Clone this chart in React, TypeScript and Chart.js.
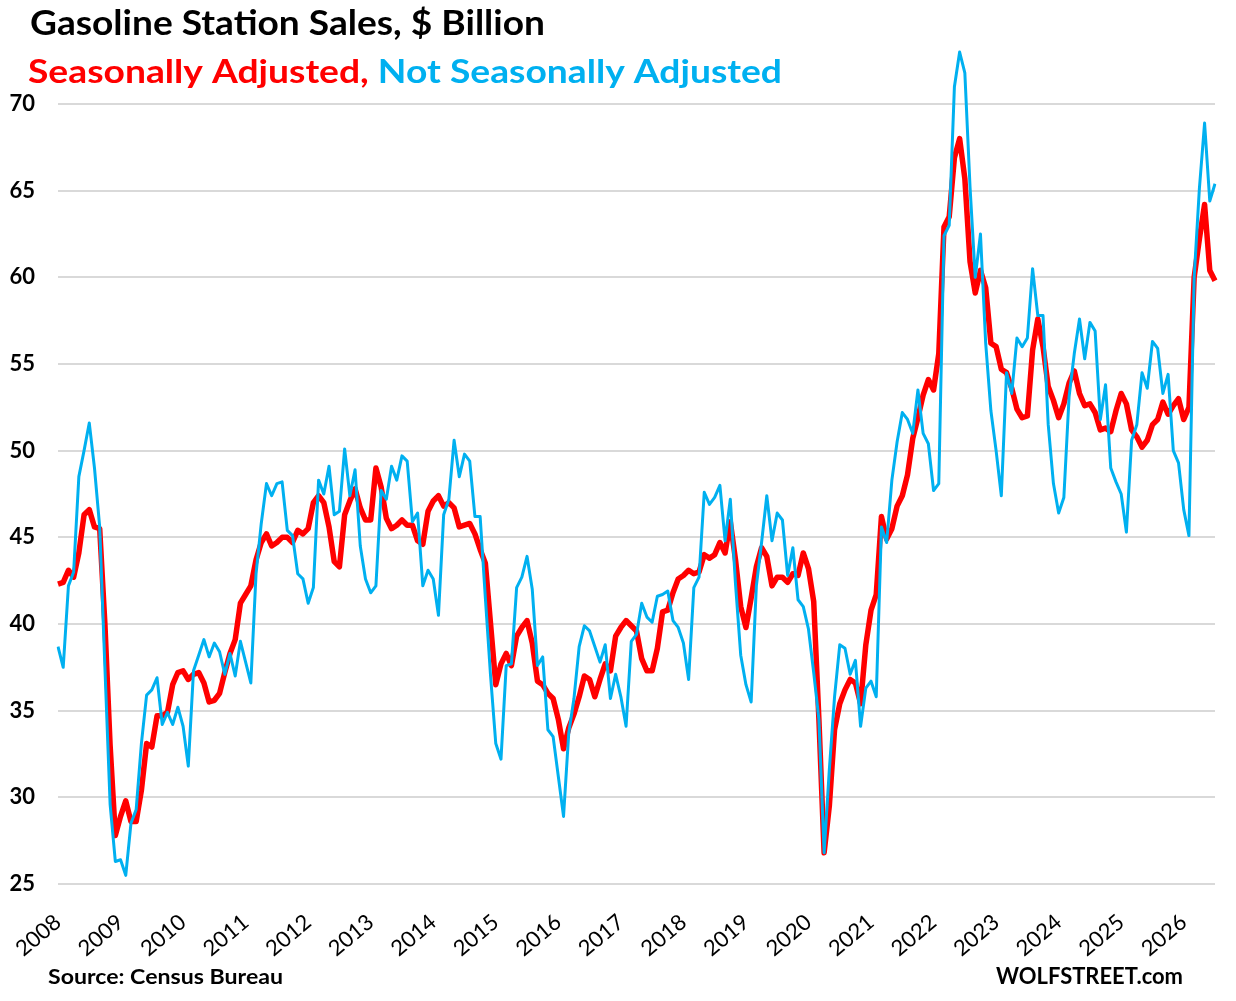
import React, { useEffect, useRef } from "react";
import { Chart, registerables } from "chart.js";

Chart.register(...registerables);

const years = ["2008","2009","2010","2011","2012","2013","2014","2015","2016","2017","2018","2019","2020","2021","2022","2023","2024","2025","2026"];
const monthsInLastYear = 7;

const seasonallyAdjusted = [
  42.3, 42.4, 43.1, 42.7, 44.1, 46.3, 46.6, 45.6, 45.5, 40.0, 33.0, 27.8,
  28.9, 29.8, 28.6, 28.6, 30.4, 33.1, 32.9, 34.7, 34.7, 34.9, 36.5, 37.2,
  37.3, 36.8, 37.1, 37.2, 36.6, 35.5, 35.6, 36.0, 37.2, 38.3, 39.1, 41.2,
  41.7, 42.2, 43.7, 44.7, 45.2, 44.5, 44.7, 45.0, 45.0, 44.7, 45.4, 45.2,
  45.5, 47.0, 47.4, 47.0, 45.6, 43.6, 43.3, 46.3, 47.1, 47.8, 46.7, 46.0,
  46.0, 49.0, 47.9, 46.1, 45.5, 45.7, 46.0, 45.7, 45.7, 44.8, 44.6, 46.5,
  47.1, 47.4, 46.8, 47.0, 46.7, 45.6, 45.7, 45.8, 45.2, 44.3, 43.5, 40.0,
  36.5, 37.7, 38.3, 37.6, 39.3, 39.8, 40.2, 38.9, 36.7, 36.5, 36.0, 35.7,
  34.5, 32.8, 34.0, 34.8, 35.8, 37.0, 36.8, 35.8, 36.8, 37.7, 37.3, 39.3,
  39.8, 40.2, 39.9, 39.6, 38.0, 37.3, 37.3, 38.6, 40.7, 40.8, 41.8, 42.6,
  42.8, 43.1, 42.9, 43.0, 44.0, 43.8, 44.0, 44.7, 44.1, 45.9, 43.7, 41.0,
  39.8, 41.5, 43.3, 44.4, 43.9, 42.2, 42.7, 42.7, 42.4, 42.9, 42.8, 44.1,
  43.2, 41.3, 34.5, 26.8, 29.5, 33.9, 35.4, 36.2, 36.8, 36.6, 35.4, 38.8,
  40.8, 41.7, 46.2, 44.9, 45.5, 46.8, 47.4, 48.6, 50.7, 51.9, 53.2, 54.1,
  53.5, 55.6, 62.9, 63.5, 66.9, 68.0, 65.7, 60.9, 59.1, 60.4, 59.4, 56.2,
  56.0, 54.7, 54.5, 53.6, 52.4, 51.9, 52.0, 55.8, 57.6, 56.0, 53.7, 52.9,
  51.9, 52.7, 53.9, 54.6, 53.3, 52.6, 52.7, 52.2, 51.2, 51.3, 51.1, 52.3,
  53.3, 52.7, 51.2, 50.8, 50.2, 50.6, 51.5, 51.8, 52.8, 52.1, 52.6, 53.0,
  51.8, 52.5, 60.0, 62.2, 64.2, 60.4, 59.8,
];

const notSeasonallyAdjusted = [
  38.7, 37.5, 42.2, 43.0, 48.5, 50.0, 51.6, 49.0, 45.6, 37.5, 29.6, 26.3,
  26.4, 25.5, 28.5, 29.3, 33.1, 35.9, 36.2, 36.9, 34.2, 34.9, 34.2, 35.2,
  34.1, 31.8, 37.3, 38.2, 39.1, 38.1, 38.9, 38.4, 37.1, 38.3, 37.0, 39.0,
  37.8, 36.6, 42.9, 45.8, 48.1, 47.4, 48.1, 48.2, 45.4, 45.1, 42.9, 42.6,
  41.2, 42.1, 48.3, 47.5, 49.1, 46.3, 46.5, 50.1, 47.4, 48.9, 44.5, 42.6,
  41.8, 42.2, 47.7, 47.2, 49.1, 48.3, 49.7, 49.4, 45.9, 46.4, 42.2, 43.1,
  42.6, 40.5, 46.3, 47.2, 50.6, 48.5, 49.8, 49.4, 46.2, 46.2, 41.5, 37.0,
  33.1, 32.2, 37.6, 37.7, 42.1, 42.7, 43.9, 42.0, 37.6, 38.1, 33.9, 33.5,
  31.2, 28.9, 33.7, 35.7, 38.7, 39.9, 39.6, 38.7, 37.8, 38.8, 35.7, 37.1,
  35.8, 34.1, 39.0, 39.4, 41.2, 40.4, 40.1, 41.6, 41.7, 41.9, 40.2, 39.8,
  38.9, 36.8, 42.1, 42.7, 47.6, 46.9, 47.3, 48.0, 44.8, 47.2, 42.3, 38.2,
  36.5, 35.5, 42.2, 44.7, 47.4, 44.8, 46.4, 46.0, 42.8, 44.4, 41.4, 41.0,
  39.7, 37.2, 34.5, 26.8, 31.6, 35.8, 38.8, 38.6, 37.1, 37.9, 34.1, 36.3,
  36.7, 35.8, 45.6, 44.7, 48.3, 50.5, 52.2, 51.8, 51.0, 53.5, 51.0, 50.4,
  47.7, 48.1, 62.4, 63.0, 71.0, 73.0, 71.8, 65.2, 60.0, 62.5, 56.2, 52.3,
  50.0, 47.4, 54.5, 53.3, 56.5, 56.0, 56.5, 60.5, 57.8, 57.8, 51.5, 48.1,
  46.4, 47.3, 53.1, 55.6, 57.6, 55.3, 57.4, 56.9, 51.8, 53.8, 49.0, 48.2,
  47.5, 45.3, 50.6, 51.5, 54.5, 53.6, 56.3, 55.9, 53.3, 54.4, 50.0, 49.3,
  46.6, 45.1, 60.0, 65.1, 68.9, 64.4, 65.4,
];

const yTicks = [25, 30, 35, 40, 45, 50, 55, 60, 65, 70];

const months: string[] = [];
years.forEach((y, yi) => {
  const n = yi === years.length - 1 ? monthsInLastYear : 12;
  for (let m = 1; m <= n; m++) months.push(`${y}-${String(m).padStart(2, "0")}`);
});

const RED = "#ff0000";
const BLUE = "#00b0f0";
const FONT = "Lato, 'Open Sans', sans-serif";

function drawFit(ctx: CanvasRenderingContext2D, parts: { t: string; c: string }[], x: number, y: number, font: string, target: number) {
  ctx.save();
  ctx.font = font;
  ctx.textBaseline = "alphabetic";
  ctx.textAlign = "left";
  const full = parts.map((p) => p.t).join("");
  const w = ctx.measureText(full).width;
  const s = target / w;
  ctx.translate(x, y);
  ctx.scale(s, 1);
  let cx = 0;
  for (const p of parts) {
    ctx.fillStyle = p.c;
    ctx.fillText(p.t, cx, 0);
    cx += ctx.measureText(p.t).width;
  }
  ctx.restore();
}

const textPlugin = {
  id: "wolfTexts",
  afterDraw(chart: any) {
    const ctx = chart.ctx as CanvasRenderingContext2D;
    drawFit(ctx, [{ t: "Gasoline Station Sales, $ Billion", c: "#000" }], 30, 35, `bold 34px ${FONT}`, 515);
    drawFit(ctx, [{ t: "Seasonally Adjusted,", c: RED }, { t: " Not Seasonally Adjusted", c: BLUE }], 28, 83, `bold 33px ${FONT}`, 754);
    drawFit(ctx, [{ t: "Source: Census Bureau", c: "#000" }], 48, 984, `bold 21px ${FONT}`, 235);
    drawFit(ctx, [{ t: "WOLFSTREET.com", c: "#000" }], 996, 984, `bold 22px ${FONT}`, 187);
  },
};

export default function App() {
  const ref = useRef<HTMLCanvasElement | null>(null);
  useEffect(() => {
    document.body.style.margin = "0";
    const canvas = ref.current!;
    const chart = new Chart(canvas, {
      type: "line",
      data: {
        labels: months,
        datasets: [
          {
            label: "Not Seasonally Adjusted",
            data: notSeasonallyAdjusted,
            borderColor: BLUE,
            backgroundColor: BLUE,
            borderWidth: 3,
            pointRadius: 0,
            tension: 0,
            borderJoinStyle: "round",
            order: 0,
          },
          {
            label: "Seasonally Adjusted",
            data: seasonallyAdjusted,
            borderColor: RED,
            backgroundColor: RED,
            borderWidth: 5.5,
            pointRadius: 0,
            tension: 0,
            borderJoinStyle: "round",
            order: 1,
          },
        ],
      },
      options: {
        responsive: false,
        animation: false,
        devicePixelRatio: 1,
        layout: { padding: { top: 43.33, right: 21, bottom: 0, left: 0 } },
        plugins: { legend: { display: false }, tooltip: { enabled: false }, title: { display: false } },
        scales: {
          x: {
            type: "category",
            grid: { display: false },
            border: { display: false },
            afterFit: (s: any) => { s.height = 117; },
            ticks: {
              autoSkip: false,
              minRotation: 40,
              maxRotation: 40,
              padding: 17,
              color: "#000",
              font: { family: FONT, size: 22 },
              callback: function (this: any, _v: any, i: number) {
                const lab = months[i];
                return lab.endsWith("-01") ? lab.slice(0, 4) : null;
              },
            },
          },
          y: {
            min: 25,
            max: 73.5,
            afterBuildTicks: (s: any) => { s.ticks = yTicks.map((v) => ({ value: v })); },
            afterFit: (s: any) => { s.width = 58; },
            grid: { color: "#d9d9d9", lineWidth: 2, drawTicks: false },
            border: { display: false },
            ticks: {
              padding: 23,
              color: "#000",
              font: { family: FONT, size: 22, weight: "bold" },
            },
          },
        },
      },
      plugins: [textPlugin],
    });
    return () => chart.destroy();
  }, []);
  return (
    <div style={{ width: 1236, height: 1001, position: "relative", background: "#fff" }}>
      <canvas ref={ref} width={1236} height={1001} style={{ display: "block" }} />
    </div>
  );
}
